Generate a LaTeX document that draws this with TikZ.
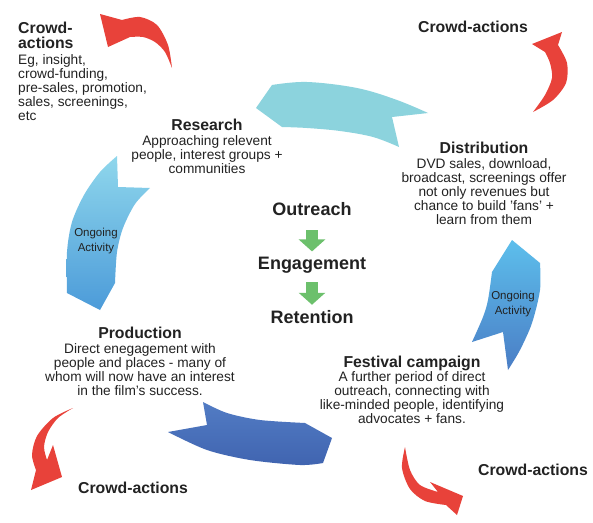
\documentclass[tikz,border=0pt]{standalone}
\usepackage{fontspec}
\setmainfont{Liberation Sans}
\usepackage{tikz}
\usetikzlibrary{positioning, arrows.meta}

\definecolor{textgray}{RGB}{34,34,34}
\definecolor{crowdred}{RGB}{232,66,58}
\definecolor{flowgreen}{RGB}{108,192,108}
\definecolor{tealtop}{RGB}{140,211,221}
\definecolor{lefttop}{RGB}{143,215,236}
\definecolor{leftbot}{RGB}{76,155,217}
\definecolor{bottop}{RGB}{82,124,196}
\definecolor{botbot}{RGB}{64,100,176}
\definecolor{righttop}{RGB}{93,191,236}
\definecolor{rightbot}{RGB}{74,125,197}

\begin{document}
\begin{tikzpicture}[x=1pt, y=-1pt,
        title/.style={font=\fontsize{15.8}{15}\selectfont\bfseries, inner sep=0pt, text depth=0pt, text=textgray, anchor=base},
        body/.style={font=\fontsize{13.7}{14}\selectfont, inner sep=0pt, align=center, text=textgray},
        stage/.style={font=\fontsize{18}{18}\selectfont\bfseries, inner sep=0pt, text=textgray, anchor=base},
        ongoing/.style={font=\fontsize{11.5}{15}\selectfont, inner sep=0pt, align=center, text=textgray},
        flowarrow/.style={flowgreen, line width=12pt, -{Triangle[width=26pt, length=12pt]}}]
        \path[fill=white] (0,0) rectangle (593,522);

        % Ongoing cycle
        \path[fill=tealtop] (256,108) -- (272,85)
            -- plot[smooth, tension=0.6] coordinates {(272,85) (307,82) (357,88) (397,100) (428,113)}
            -- (392,117) -- (399,147)
            -- plot[smooth, tension=0.6] coordinates {(399,147) (373,137) (340,131) (307,128) (282,127)}
            -- cycle;
        \path[top color=lefttop, bottom color=leftbot] (117,156) -- (118,187) -- (150,188)
            -- plot[smooth] coordinates {(150,188) (135,204) (123,228) (117,252) (115,283)}
            -- (100,310) -- (67,293)
            -- plot[smooth] coordinates {(67,293) (67,252) (72,222) (84,195) (100,172) (117,156)}
            -- cycle;
        \path[top color=bottop, bottom color=botbot] (203,402) -- (207,425) -- (168,432)
            -- plot[smooth] coordinates {(168,432) (207,450) (250,460) (300,465) (323,463)}
            -- (332,438) -- (305,423)
            -- plot[smooth] coordinates {(305,423) (260,420) (227,413) (203,402)}
            -- cycle;
        \path[top color=righttop, bottom color=rightbot] (512,240) -- (540,263)
            -- plot[smooth] coordinates {(540,263) (540,290) (532,323) (520,350) (508,370)}
            -- (503,332) -- (472,342)
            -- plot[smooth] coordinates {(472,342) (483,317) (488,300) (492,272)}
            -- cycle;

        % Crowd-action arrows
        \fill[crowdred] (100,14) -- (122,20)
            -- plot[smooth] coordinates {(122,20) (140,17) (157,25) (168,45) (172,68)}
            -- plot[smooth] coordinates {(172,68) (165,52) (155,42) (143,37) (130,37)}
            -- (108,47) -- cycle;
        \fill[crowdred] (562,32) -- (558,45)
            -- plot[smooth] coordinates {(558,45) (567,63) (566,83) (553,100) (533,112)}
            -- plot[smooth] coordinates {(533,112) (545,95) (552,78) (550,63) (545,52)}
            -- (532,44) -- cycle;
        \fill[crowdred] (73,408)
            -- plot[smooth] coordinates {(73,408) (53,418) (37,436) (32,455) (36,470)}
            -- (31,490) -- (62,477) -- (53,445) -- (47,460)
            -- plot[smooth] coordinates {(47,460) (44,447) (48,432) (58,418) (73,408)}
            -- cycle;
        \fill[crowdred] (405,447)
            -- plot[smooth] coordinates {(405,447) (402,468) (410,489) (425,501) (446,505)}
            -- (457,515) -- (463,496) -- (430,482) -- (438,492)
            -- plot[smooth] coordinates {(438,492) (420,485) (410,470) (405,447)}
            -- cycle;

        % Nodes
        \node (crowdtl) [font=\fontsize{15.8}{15}\selectfont\bfseries, inner sep=0pt, text=textgray, align=left, anchor=north west] at (18,22) {Crowd-\\actions};
        \node (crowdtltxt) [body, align=left, below=5pt of crowdtl.south west, anchor=north west] {Eg, insight,\\crowd-funding,\\pre-sales, promotion,\\sales, screenings,\\etc};
        \node (crowdtr) [title] at (473,32) {Crowd-actions};
        \node (crowdbl) [title] at (133,493) {Crowd-actions};
        \node (crowdbr) [title] at (533,475) {Crowd-actions};

        \node (research) [title] at (207,130) {Research};
        \node (researchtxt) [body, below=5pt of research] {Approaching relevent\\people, interest groups +\\communities};
        \node (distribution) [title] at (484,153) {Distribution};
        \node (distributiontxt) [body, below=5pt of distribution] {DVD sales, download,\\broadcast, screenings offer\\not only revenues but\\chance to build 'fans' +\\learn from them};
        \node (production) [title] at (140,338) {Production};
        \node (productiontxt) [body, below=5pt of production] {Direct enegagement with\\people and places - many of\\whom will now have an interest\\in the film's success.};
        \node (festival) [title] at (412,367) {Festival campaign};
        \node (festivaltxt) [body, below=4pt of festival] {A further period of direct\\outreach, connecting with\\like-minded people, identifying\\advocates + fans.};

        \node (ongoingl) [ongoing] at (96,241) {Ongoing\\Activity};
        \node (ongoingr) [ongoing] at (513,304.5) {Ongoing\\Activity};

        \node (outreach) [stage] at (312,215) {Outreach};
        \node (engagement) [stage] at (312,269) {Engagement};
        \node (retention) [stage] at (312,323) {Retention};

        % Arrows
        \draw[flowarrow, shorten <=15pt, shorten >=5pt] (outreach.south) -- (engagement.north);
        \draw[flowarrow, shorten <=9pt, shorten >=5pt] (engagement.south) -- (retention.north);
\end{tikzpicture}
\end{document}
